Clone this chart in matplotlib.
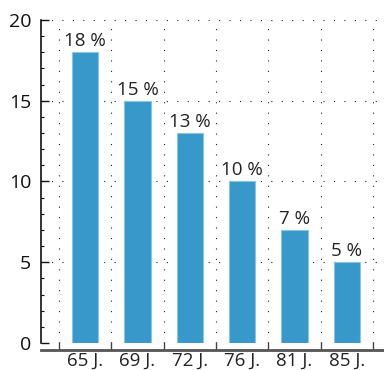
from matplotlib import pyplot as plt
from matplotlib.ticker import MultipleLocator, FixedLocator
import numpy as np

# data
categories = ['65 J.', '69 J.', '72 J.', '76 J.', '81 J.', '85 J.']
values = [18, 15, 13, 10, 7, 5]
labels = ['18 %', '15 %', '13 %', '10 %', '7 %', '5 %']

plt.rcParams['font.family'] = ['Open Sans', 'DejaVu Sans']

fig = plt.figure(figsize=(3.84, 3.70), dpi=100)
ax = fig.add_axes([41 / 384, 1 - 343 / 370, 1 - 41 / 384, (343 - 20) / 370])

x = np.arange(len(categories))
bars = ax.bar(x, values, width=0.5, color='#3898c9', edgecolor='#8cc4e4',
              linewidth=0.8, zorder=3)

for b, lab in zip(bars, labels):
    ax.annotate(lab, (b.get_x() + b.get_width() / 2, b.get_height()),
                xytext=(0, 1.5), textcoords='offset points',
                ha='center', va='bottom', fontsize=13.5, color='#222222', zorder=4)

ax.set_xlim(-0.844, 5.71)
ax.set_ylim(0, 20)

# y axis
ax.yaxis.set_major_locator(MultipleLocator(5))
ax.yaxis.set_minor_locator(MultipleLocator(1))
ax.tick_params(axis='y', which='major', direction='in', length=6, width=1,
               labelsize=14, pad=7, colors='#111111')
ax.tick_params(axis='y', which='minor', direction='in', length=2.5, width=0.8,
               colors='#111111')

# x axis: ticks at boundaries, labels at centres
ax.xaxis.set_major_locator(FixedLocator(np.arange(len(categories) + 1) - 0.5))
ax.xaxis.set_minor_locator(FixedLocator(x))
ax.set_xticklabels([], minor=False)
ax.set_xticks(x, categories, minor=True)
ax.tick_params(axis='x', which='major', direction='in', length=5.5, width=1,
               colors='#444444')
ax.tick_params(axis='x', which='minor', length=0, labelsize=13.5, pad=1,
               labelcolor='#222222')

ax.spines['top'].set_visible(False)
ax.spines['right'].set_visible(False)
ax.spines['left'].set_color('#111111')
ax.spines['left'].set_linewidth(1.2)
ax.spines['bottom'].set_position(('outward', 5))
ax.spines['bottom'].set_color('#555555')
ax.spines['bottom'].set_linewidth(2)

ax.grid(True, which='major', color='#222222', linestyle=(0, (1, 8.4)),
        linewidth=0.8, zorder=0)

plt.savefig('out.png', dpi=100)
